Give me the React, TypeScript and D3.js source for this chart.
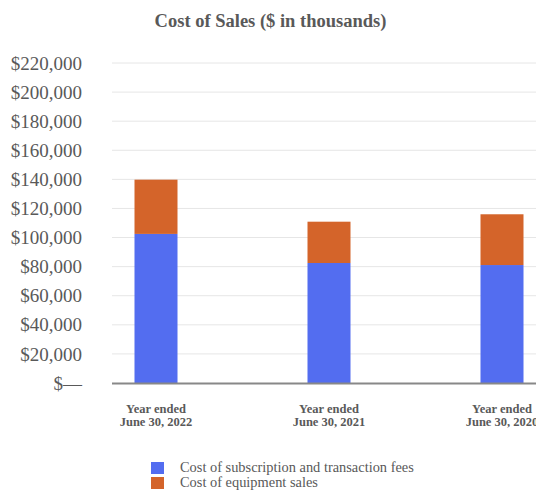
import React from "react";
import * as d3 from "d3";

const categories = ["Year ended|June 30, 2022", "Year ended|June 30, 2021", "Year ended|June 30, 2020"];
const subscription = [102500, 82500, 81100];
const equipment = [37300, 28400, 34900];
const seriesNames = ["Cost of subscription and transaction fees", "Cost of equipment sales"];
const yTicks = [0, 20000, 40000, 60000, 80000, 100000, 120000, 140000, 160000, 180000, 200000, 220000];

const W = 536, H = 490;
const colors = ["#536DF0", "#D4642A"];
const textColor = "#595959";

export default function App() {
  const y = d3.scaleLinear().domain([0, 220000]).range([383, 63]);
  const x = d3.scalePoint<string>().domain(categories).range([156, 502]);
  const bw = 43;
  const stackData = categories.map((c, i) => ({ cat: c, sub: subscription[i], eq: equipment[i] }));
  const stack = d3.stack<any>().keys(["sub", "eq"])(stackData);
  const fmt = (v: number) => (v === 0 ? "$—" : "$" + d3.format(",")(v));

  return (
    <svg width={W} height={H} style={{ position: "absolute", left: 0, top: 0, background: "#fff" }}
      fontFamily="'Liberation Serif', 'Times New Roman', serif">
      <text x={270.5} y={27} textAnchor="middle" fontWeight="bold" fontSize={18.5} fill={textColor}>
        Cost of Sales ($ in thousands)
      </text>
      {yTicks.map((t) => (
        <g key={t}>
          {t > 0 && <line x1={112} x2={W} y1={y(t)} y2={y(t)} stroke="#e6e6e6" strokeWidth={1} />}
          <text x={82} y={y(t)} dy="0.35em" textAnchor="end" fontSize={19} fill={textColor}>
            {fmt(t)}
          </text>
        </g>
      ))}
      {stack.map((s, si) =>
        s.map((d, i) => (
          <rect key={si + "-" + i} x={(x(categories[i]) as number) - bw / 2} width={bw}
            y={y(d[1])} height={y(d[0]) - y(d[1])} fill={colors[si]} />
        ))
      )}
      <line x1={112} x2={W} y1={y(0) + 0.5} y2={y(0) + 0.5} stroke="#888" strokeWidth={2} />
      {categories.map((c) => {
        const [l1, l2] = c.split("|");
        return (
          <text key={c} x={x(c)} textAnchor="middle" fontWeight="bold" fontSize={12.5} fill={textColor}>
            <tspan x={x(c)} y={412.5}>{l1}</tspan>
            <tspan x={x(c)} y={426}>{l2}</tspan>
          </text>
        );
      })}
      {seriesNames.map((n, i) => (
        <g key={n}>
          <rect x={151} y={462 + i * 15} width={13} height={12} fill={colors[i]} />
          <text x={180} y={472 + i * 15} fontSize={14.4} fill={textColor}>{n}</text>
        </g>
      ))}
    </svg>
  );
}
